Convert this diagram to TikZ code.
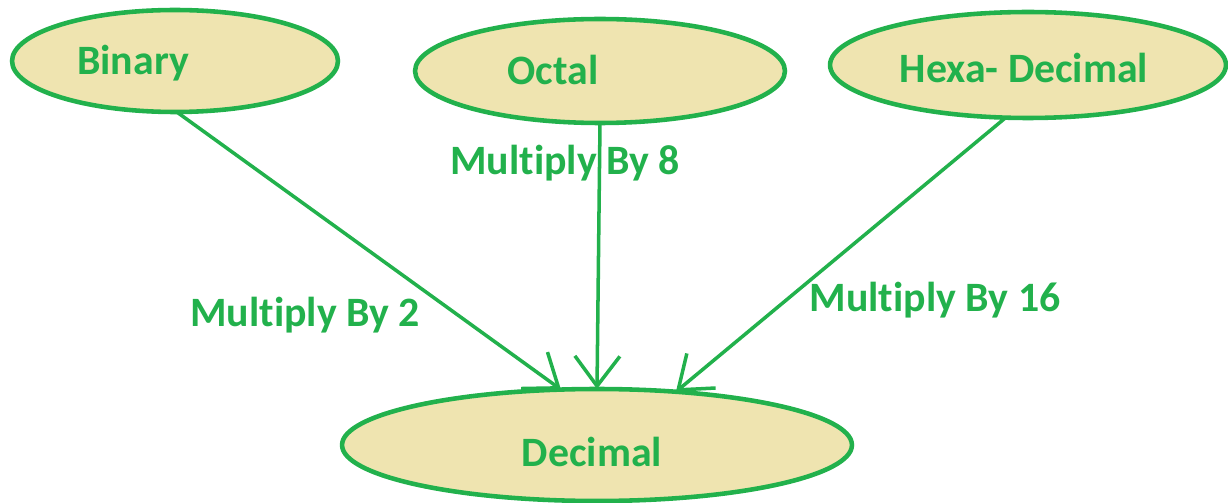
\documentclass[tikz,border=0pt]{standalone}
\usepackage{fontspec}
\setmainfont{Carlito}[Ligatures=NoCommon]
\usetikzlibrary{shapes.geometric,arrows.meta}
\definecolor{paintgreen}{RGB}{34,177,76}
\definecolor{tan}{RGB}{239,228,176}
\begin{document}
\begin{tikzpicture}[x=0.02cm,y=-0.02cm,
  bubble/.style={ellipse,draw=paintgreen,fill=tan,line width=2.6pt,inner sep=0pt,outer sep=0pt},
  word/.style={text=paintgreen,font=\fontsize{23.8}{28}\selectfont\bfseries,inner sep=0pt},
  conv/.style={draw=paintgreen,line width=2pt,line cap=round,
    -{Straight Barb[length=0.6cm,width=0.9cm,line width=2pt]}}]
\useasboundingbox (0,0) rectangle (1228,503);
% number-system bubbles
\node[bubble,minimum width=6.52cm,minimum height=2.04cm] (b) at (175,61) {};
\node[bubble,minimum width=7.4cm,minimum height=2.08cm] (o) at (600,71) {};
\node[bubble,minimum width=7.92cm,minimum height=2.12cm] (h) at (1028,65) {};
\node[bubble,minimum width=10.2cm,minimum height=2.24cm] (d) at (597,445) {};
% bubble texts
\node[word] (bt) at (133,63) {Binary};
\node[word] (ot) at (553,70) {Octal};
\node[word] (ht) at (1024,68) {Hexa- Decimal};
\node[word] (dt) at (592,452) {Decimal};
% conversions to decimal
\draw[conv] (b.-88) -- (d.123);
\draw[conv] (o.south) -- (d.north);
\draw[conv] (h.-113) -- (d.34.5);
% conversion labels
\node[word] (l2) at (305,315) {Multiply By 2};
\node[word] (l8) at (565,163) {Multiply By 8};
\node[word] (l16) at (935,300) {Multiply By 16};
\end{tikzpicture}
\end{document}
